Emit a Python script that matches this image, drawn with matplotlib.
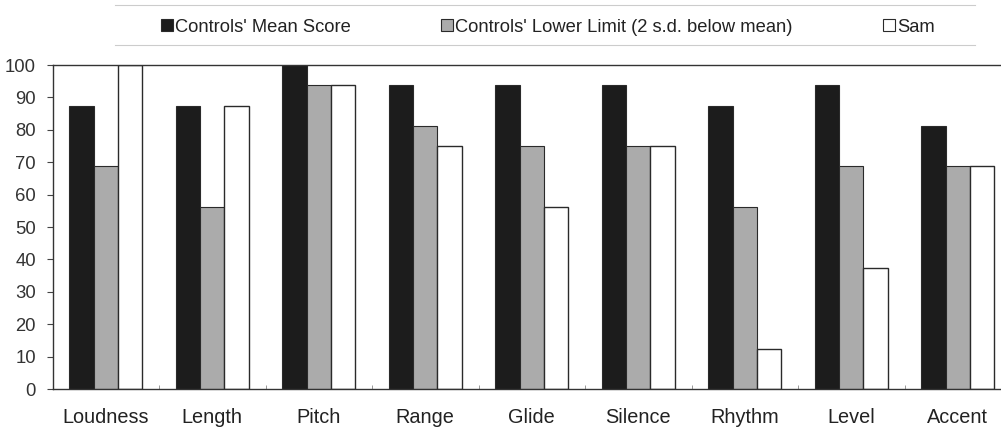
import matplotlib
matplotlib.use("Agg")
import matplotlib.pyplot as plt
import numpy as np
from matplotlib.patches import Patch
from matplotlib.lines import Line2D

plt.rcParams['font.family'] = ['Liberation Sans', 'DejaVu Sans']

categories = ["Loudness", "Length", "Pitch", "Range", "Glide", "Silence", "Rhythm", "Level", "Accent"]
controls_mean = [87.5, 87.5, 100, 93.75, 93.75, 93.75, 87.5, 93.75, 81.25]
controls_lower = [68.75, 56.25, 93.75, 81.25, 75, 75, 56.25, 68.75, 68.75]
sam = [100, 87.5, 93.75, 75, 56.25, 75, 12.5, 37.5, 68.75]
series_labels = ["Controls' Mean Score", "Controls' Lower Limit (2 s.d. below mean)", "Sam"]

fig = plt.figure(figsize=(10.01, 4.29), dpi=100)
ax = fig.add_axes([52.5 / 1001, 1 - 389 / 429, (1011 - 52.5) / 1001, (389 - 65) / 429])

x = np.arange(len(categories))
w = 0.23
edge = "#2a2a2a"
ax.bar(x - w, controls_mean, w, color="#1c1c1c", edgecolor=edge, linewidth=0.8)
ax.bar(x, controls_lower, w, color="#ababab", edgecolor=edge, linewidth=0.8)
ax.bar(x + w, sam, w, color="white", edgecolor=edge, linewidth=1.0)

ax.set_xlim(-0.5, len(categories) - 0.5)
ax.set_ylim(0, 100)
ax.set_yticks(np.arange(0, 101, 10))
ax.set_xticks(x)
ax.set_xticklabels(categories, fontsize=14.3, color="#222222")
ax.tick_params(axis="x", length=0, pad=14)
ax.set_xticks(np.arange(0.5, len(categories) - 0.5, 1), minor=True)
ax.tick_params(axis="x", which="minor", direction="in", length=3, color="#888888")
ax.tick_params(axis="y", labelsize=13.3, length=4, color="#444444", labelcolor="#333333", pad=8)
for s in ["left", "bottom", "top"]:
    ax.spines[s].set_color("#333333")
    ax.spines[s].set_linewidth(1.0)
ax.spines["right"].set_visible(False)

handles = [
    Patch(facecolor="#1c1c1c", edgecolor=edge, linewidth=0.8),
    Patch(facecolor="#ababab", edgecolor=edge, linewidth=0.8),
    Patch(facecolor="white", edgecolor=edge, linewidth=0.8),
]
fig.legend(handles, series_labels, loc="center", bbox_to_anchor=(548 / 1001, 1 - 27 / 429),
           ncol=3, frameon=False, fontsize=13.2, handlelength=0.66, handleheight=0.66,
           handletextpad=0.12, columnspacing=4.9, labelcolor="#222222",
           borderpad=0, borderaxespad=0)

for yy in (5, 45):
    fig.add_artist(Line2D([115 / 1001, 975 / 1001], [1 - yy / 429] * 2,
                          transform=fig.transFigure, color="#cccccc", linewidth=0.8))

fig.savefig("out.png", dpi=100)
